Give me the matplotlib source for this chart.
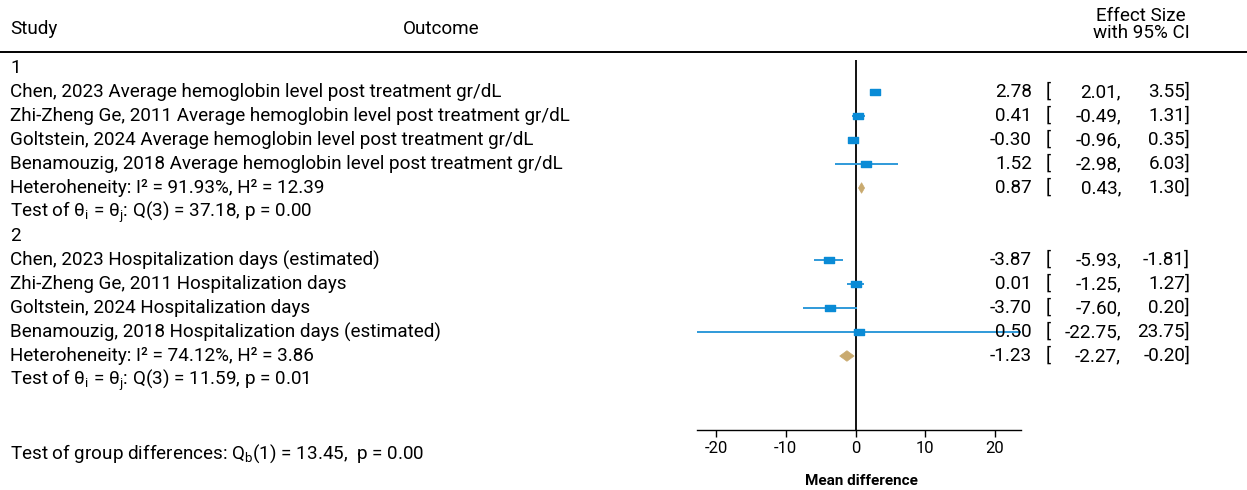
import matplotlib
matplotlib.use("Agg")
import matplotlib.pyplot as plt
from matplotlib.patches import Polygon
from matplotlib.path import Path
from matplotlib.transforms import blended_transform_factory

plt.rcParams['font.family'] = ['Roboto', 'DejaVu Sans']
plt.rcParams['mathtext.fontset'] = 'custom'
plt.rcParams['mathtext.rm'] = 'Roboto'
plt.rcParams['mathtext.it'] = 'Roboto:italic'
plt.rcParams['mathtext.bf'] = 'Roboto:bold'
plt.rcParams['axes.unicode_minus'] = False

# ---- data ----
studies = ["Chen, 2023", "Zhi-Zheng Ge, 2011", "Goltstein, 2024", "Benamouzig, 2018"]
group_labels = ["1", "2"]
outcomes_g1 = ["Average hemoglobin level post treatment gr/dL"] * 4
outcomes_g2 = ["Hospitalization days (estimated)", "Hospitalization days",
               "Hospitalization days", "Hospitalization days (estimated)"]
es_g1 = [2.78, 0.41, -0.30, 1.52]
lo_g1 = [2.01, -0.49, -0.96, -2.98]
hi_g1 = [3.55, 1.31, 0.35, 6.03]
pooled_g1 = [0.87, 0.43, 1.30]
es_g2 = [-3.87, 0.01, -3.70, 0.50]
lo_g2 = [-5.93, -1.25, -7.60, -22.75]
hi_g2 = [-1.81, 1.27, 0.20, 23.75]
pooled_g2 = [-1.23, -2.27, -0.20]
het_g1 = "Heteroheneity: I² = 91.93%, H² = 12.39"
het_g2 = "Heteroheneity: I² = 74.12%, H² = 3.86"
test_g1 = r"Test of θ$_\mathrm{i}$ = θ$_\mathrm{j}$: Q(3) = 37.18, p = 0.00"
test_g2 = r"Test of θ$_\mathrm{i}$ = θ$_\mathrm{j}$: Q(3) = 11.59, p = 0.01"
test_between = r"Test of group differences: Q$_\mathrm{b}$(1) = 13.45,  p = 0.00"
xticks = [-20, -10, 0, 10, 20]
xlims = [-22.75, 23.75]

W, H = 1247, 490
BLUE = "#0a8bd6"
CI_BLUE = "#2f9ad9"
DIAMOND = "#c9aa6f"
FS = 13.6

fig = plt.figure(figsize=(W / 100, H / 100), dpi=100)

# plot panel: rows are spaced 24 px, row 0 is the first group heading
row0_px, row_px = 68.0, 24.0
top_px, bot_px = 60.0, 430.0
left_px, right_px = 697.0, 1021.0
ax = fig.add_axes([left_px / W, 1 - bot_px / H, (right_px - left_px) / W, (bot_px - top_px) / H])
ax.set_xlim(*xlims)
ax.set_ylim((bot_px - row0_px) / row_px, (top_px - row0_px) / row_px)

tr = blended_transform_factory(fig.transFigure, ax.transData)


def rtext(x_px, row, s, ha="left", **kw):
    fig.text(x_px / W, row, s, transform=tr, ha=ha, va="center", fontsize=FS, **kw)


def ftext(x_px, y_px, s, **kw):
    fig.text(x_px / W, 1 - y_px / H, s, **kw)


rect = Path([(-1, -0.6), (1, -0.6), (1, 0.6), (-1, 0.6), (-1, -0.6)],
            [Path.MOVETO, Path.LINETO, Path.LINETO, Path.LINETO, Path.CLOSEPOLY])


def ci_cols(row, es, lo, hi):
    rtext(1032, row, f"{es:.2f}", ha="right")
    rtext(1046, row, "[")
    rtext(1121, row, f"{lo:.2f},", ha="right")
    rtext(1190, row, f"{hi:.2f}]", ha="right")


groups = [
    (group_labels[0], outcomes_g1, es_g1, lo_g1, hi_g1, pooled_g1, het_g1, test_g1),
    (group_labels[1], outcomes_g2, es_g2, lo_g2, hi_g2, pooled_g2, het_g2, test_g2),
]

row = 0
for label, outs, es, lo, hi, pooled, het, test in groups:
    rtext(10, row, label)
    row += 1
    for s, o, e, l, h in zip(studies, outs, es, lo, hi):
        rtext(10, row, f"{s} {o}")
        ax.hlines(row, l, h, color=CI_BLUE, lw=1.4, zorder=2)
        ax.plot(e, row, marker=rect, ms=7.6, color=BLUE, mec=BLUE, zorder=3)
        ci_cols(row, e, l, h)
        row += 1
    e, l, h = pooled
    dh = 0.22
    ax.add_patch(Polygon([(l, row), (e, row - dh), (h, row), (e, row + dh)],
                         closed=True, fc=DIAMOND, ec=DIAMOND, lw=0.5, zorder=3))
    rtext(10, row, het)
    ci_cols(row, e, l, h)
    row += 1
    rtext(10, row, test)
    row += 1

ax.axvline(0, color="black", lw=1.3, zorder=1)

for side in ("top", "right", "left"):
    ax.spines[side].set_visible(False)
ax.spines["bottom"].set_linewidth(1.0)
ax.set_yticks([])
ax.set_xticks(xticks)
ax.tick_params(axis="x", direction="out", length=5, width=1.0, labelsize=12, pad=3)

# header
ftext(10, 29, "Study", ha="left", va="center", fontsize=FS)
ftext(441, 29, "Outcome", ha="center", va="center", fontsize=FS)
ftext(1141, 16, "Effect Size", ha="center", va="center", fontsize=FS)
ftext(1141, 33, "with 95% CI", ha="center", va="center", fontsize=FS)
fig.add_artist(plt.Line2D([0, 1], [1 - 52 / H, 1 - 52 / H], transform=fig.transFigure,
                          color="black", lw=1.4))

ftext(10, 454, test_between, ha="left", va="center", fontsize=FS)
ftext(861, 481, "Mean difference", ha="center", va="center", fontsize=11, fontweight="bold")

fig.savefig("out.png", dpi=100)
